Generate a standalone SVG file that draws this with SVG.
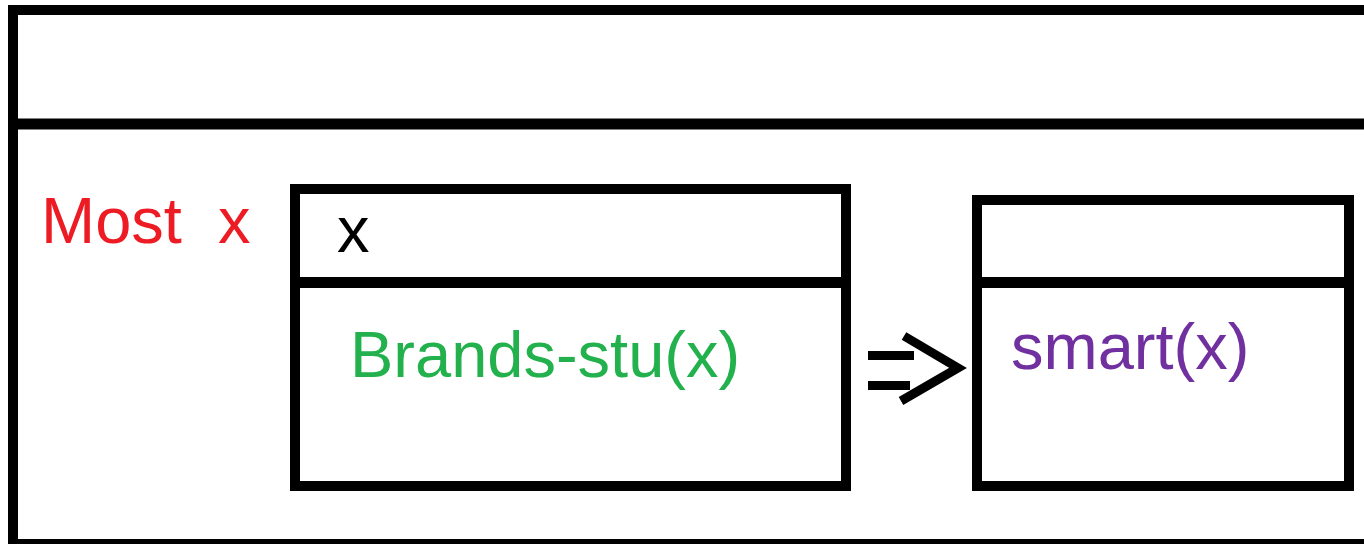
<svg xmlns="http://www.w3.org/2000/svg" width="1364" height="544" viewBox="0 0 1364 544">
  <style>
    .frame { fill: none; stroke: #000; stroke-width: 10; }
    .rule { stroke: #000; stroke-width: 11; }
    .lbl { font-family: "Liberation Sans", Arial, sans-serif; font-size: 65px; white-space: pre; }
    .red { fill: #ED1C24; }
    .green { fill: #22B14C; }
    .purple { fill: #7030A0; }
    .black { fill: #000; }
    .arrow { fill: none; stroke: #000; stroke-width: 9; stroke-linecap: butt; stroke-linejoin: miter; }
  </style>
  <rect width="1364" height="544" fill="#fff"/>

  <!-- outer scope frame, open to the right and bottom -->
  <g id="scope">
    <rect class="frame" x="13" y="10" width="1400" height="534"/>
    <line class="rule" x1="13" y1="124" x2="1364" y2="124"/>
    <text class="lbl red" x="41" y="243" xml:space="preserve">Most  x</text>
  </g>

  <!-- antecedent box -->
  <g id="antecedent">
    <rect class="frame" x="295" y="189" width="551" height="297"/>
    <line class="rule" x1="295" y1="282.5" x2="846" y2="282.5"/>
    <text class="lbl black" x="337" y="252">x</text>
    <text class="lbl green" x="350" y="377">Brands-stu(x)</text>
  </g>

  <!-- consequent box -->
  <g id="consequent">
    <rect class="frame" x="977" y="200" width="372" height="286"/>
    <line class="rule" x1="977" y1="282.5" x2="1349" y2="282.5"/>
    <text class="lbl purple" x="1011" y="369">smart(x)</text>
  </g>

  <!-- implication arrow -->
  <g id="connectors">
    <line class="arrow" x1="868" y1="355.5" x2="914" y2="355.5"/>
    <line class="arrow" x1="868" y1="385.5" x2="910" y2="385.5"/>
    <polyline class="arrow" points="904,336 958,368 901,401"/>
  </g>
</svg>
